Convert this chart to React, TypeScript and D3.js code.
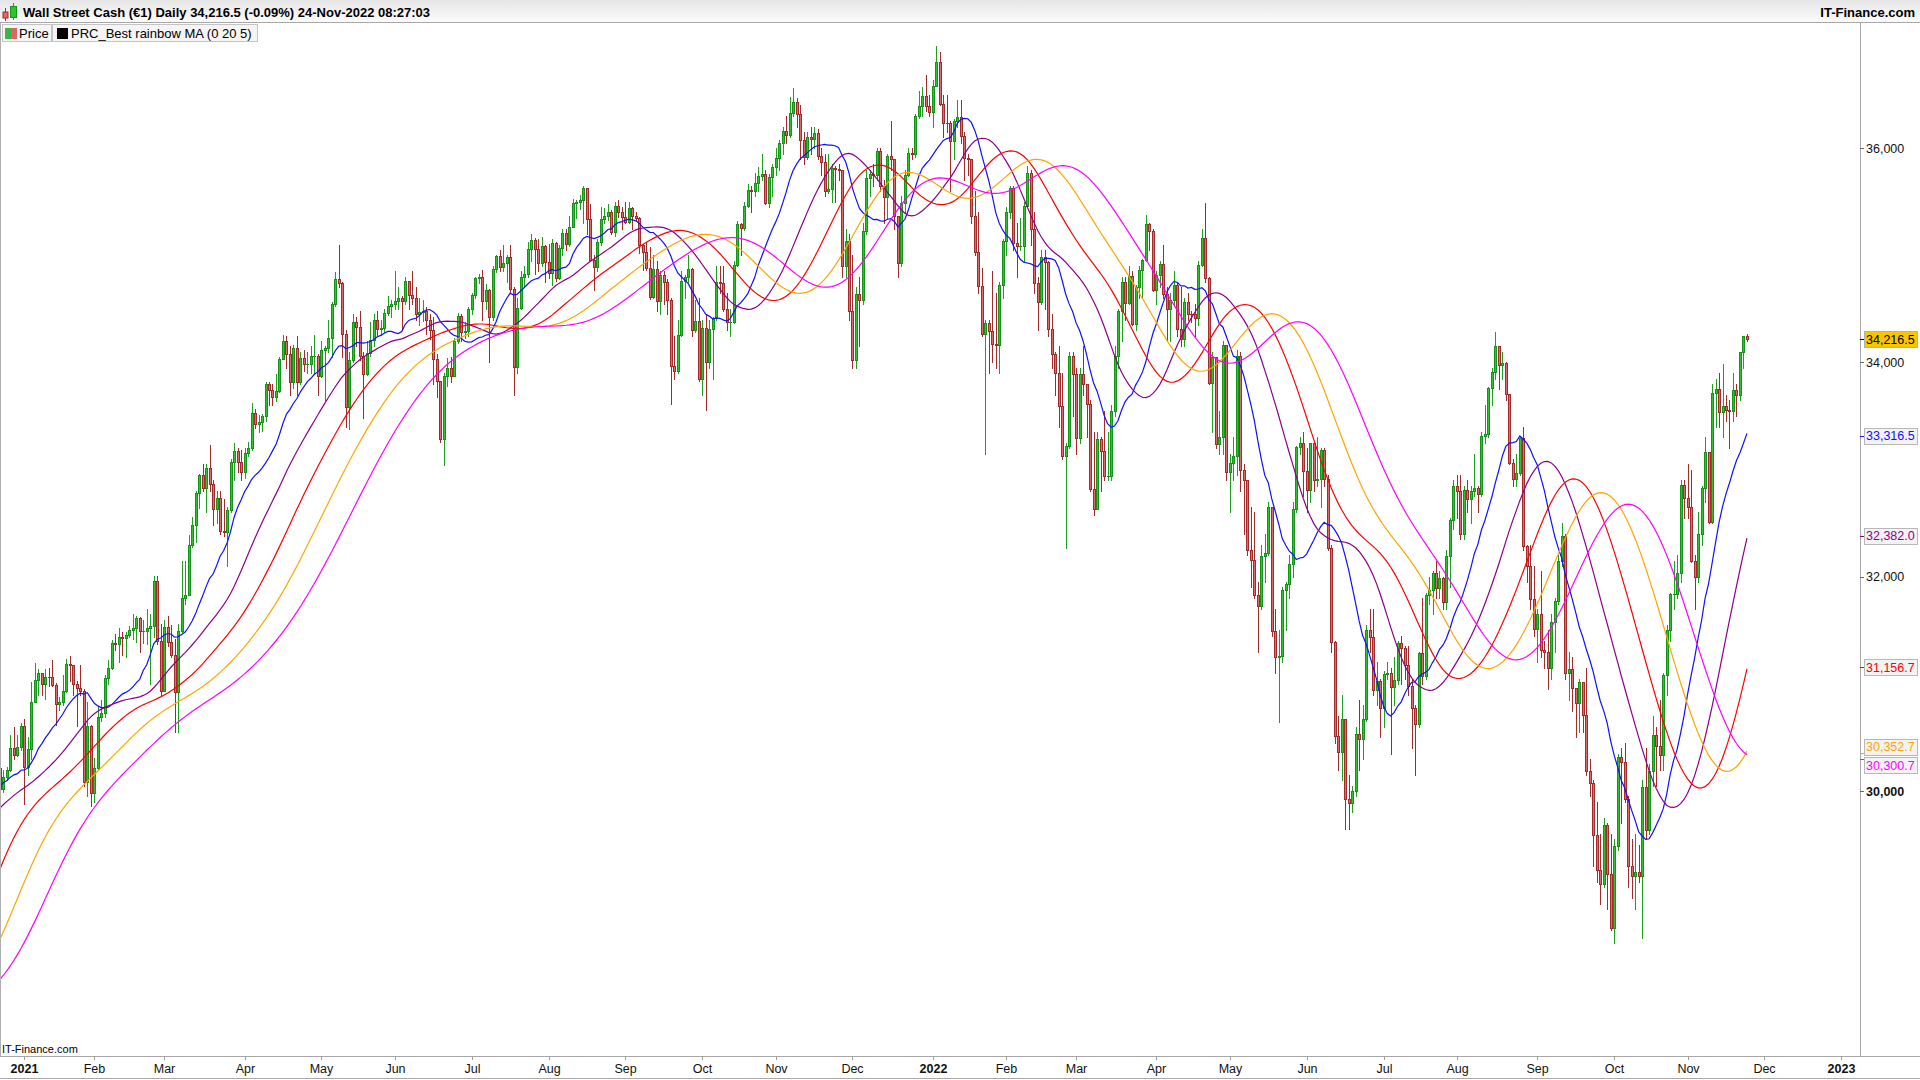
import React from 'react';
import * as d3 from 'd3';

// closes before the visible window (only feed the rainbow averages): Aug 3 2020 .. Dec 21 2020
const warmupCloses = [
  26664, 26828, 27202, 27387, 27433, 27791, 27687, 27976, 27896, 27931, 27844, 27778, 27692, 27739, 27930, 28308, 28249, 28332, 28492, 28654, 28430,
  28645, 29100, 28292, 28133, 28100, 27501, 27940, 27535, 27666, 27993, 27996, 28032, 27902, 27657, 27148, 27288, 26763, 26815, 27174, 27584, 27452, 27782,
  27817, 27683, 28149, 27773, 28303, 28426, 28587, 28838, 28680, 28514, 28494, 28606, 28196, 28309, 28211, 28364, 28336, 27685, 27463, 26520, 26660, 26502,
  26925, 27480, 27847, 28390, 28323, 29158, 29421, 29398, 29080, 29480, 29950, 29784, 29438, 29483, 29263, 29592, 30046, 29873, 29900, 29910, 29638,
  29824, 29884, 29969, 30218, 30070, 30174, 30068, 29999, 30046, 29862, 30200, 30155, 30304, 30179, 30216,
];

// daily bars [open, high, low, close], one row per weekday bar
const dec20 = [[30216,30260,29960,30016],[30016,30200,29990,30129],[30129,30225,30100,30200],[30200,30525,30190,30404],[30404,30600,30300,30336],[30336,30525,30330,30409],[30409,30637,30380,30606]];
const jan21 = [[30606,30674,29882,30223],[30223,30504,30150,30392],[30392,31022,30300,30829],[30829,31193,30830,31041],[31041,31140,30900,31098],[31098,31100,30900,30998],[30998,31135,30860,31068],[31068,31150,30980,31060],[31060,31223,30980,30991],[30991,31010,30620,30814],[30814,30880,30760,30830],[30830,31080,30800,30930],[30930,31230,30920,31188],[31188,31260,31030,31176],[31176,31180,30900,30997],[30997,31030,30610,30960],[30960,31180,30900,30937],[30937,30950,30050,30080],[30080,30830,29950,30603],[30603,30620,29860,29983]];
const feb21 = [[29983,30310,29900,30212],[30212,30790,30200,30688],[30688,30850,30650,30724],[30724,31080,30690,31056],[31056,31220,31000,31148],[31148,31410,31140,31386],[31386,31470,31320,31375],[31375,31520,31200,31438],[31438,31480,31270,31431],[31431,31480,31250,31458],[31458,31540,31440,31500],[31500,31650,31420,31523],[31523,31630,31390,31613],[31613,31620,31300,31494],[31494,31600,31380,31494],[31494,31700,31370,31522],[31522,31650,31000,31537],[31537,32010,31440,31962],[31962,32010,31370,31402],[31402,31560,30900,30932]];
const mar21 = [[30932,31600,30930,31535],[31535,31630,31350,31392],[31392,31550,31250,31270],[31270,31420,30550,30924],[30924,31560,30550,31496],[31496,32150,31480,31802],[31802,32150,31750,31833],[31833,32390,31830,32297],[32297,32560,32280,32485],[32485,32800,32320,32779],[32779,32960,32640,32953],[32953,33050,32800,32826],[32826,33050,32600,33015],[33015,33230,32800,32862],[32862,32900,32480,32628],[32628,32800,32500,32732],[32732,32800,32400,32423],[32423,32730,32380,32420],[32420,32650,32100,32619],[32619,33100,32600,33073],[33073,33250,32900,33171],[33171,33200,32980,33067],[33067,33180,32900,32982]];
const apr21 = [[32982,33200,32920,33153],[33153,33260,33130,33200],[33200,33620,33180,33527],[33527,33570,33390,33430],[33430,33510,33350,33446],[33446,33520,33360,33504],[33504,33820,33450,33801],[33801,33820,33600,33746],[33746,33800,33600,33677],[33677,33890,33640,33730],[33730,34050,33720,34036],[34036,34260,34030,34201],[34201,34250,33950,34078],[34078,34150,33700,33821],[33821,34160,33760,34137],[34137,34250,33700,33816],[33816,34100,33800,34043],[34043,34120,33920,33982],[33982,34100,33900,33985],[33985,34150,33900,34060],[34060,34260,33900,34060],[34060,34080,33700,33875]];
const may21 = [[33875,34200,33860,34114],[34114,34150,33650,34133],[34133,34400,34100,34230],[34230,34560,34050,34549],[34549,34840,34530,34778],[34778,35100,34700,34743],[34743,34750,34050,34270],[34270,34300,33400,33587],[33587,34100,33380,34021],[34021,34450,34000,34382],[34382,34420,34150,34328],[34328,34480,34020,34061],[34061,34100,33480,33896],[33896,34200,33880,34084],[34084,34380,34060,34208],[34208,34450,34150,34394],[34394,34480,34250,34313],[34313,34400,34260,34324],[34324,34500,34280,34465],[34465,34620,34440,34529],[34529,34580,34420,34550]];
const jun21 = [[34550,34850,34500,34575],[34575,34700,34500,34600],[34600,34620,34300,34578],[34578,34800,34550,34756],[34756,34760,34500,34630],[34630,34850,34550,34600],[34600,34700,34400,34448],[34448,34600,34350,34467],[34467,34580,34390,34480],[34480,34520,34270,34394],[34394,34450,34220,34300],[34300,34420,33800,34033],[34033,34080,33680,33823],[33823,33830,33260,33290],[33290,33900,33040,33877],[33877,34040,33780,33946],[33946,34050,33820,33874],[33874,34230,33870,34196],[34196,34460,34180,34433],[34433,34450,34200,34284],[34284,34380,34230,34292],[34292,34520,34250,34503]];
const jul21 = [[34503,34650,34450,34633],[34633,34800,34600,34786],[34786,34830,34740,34800],[34800,34860,34400,34577],[34577,34730,34500,34681],[34681,34690,34000,34422],[34422,34900,34400,34870],[34870,35000,34840,34996],[34996,35050,34850,34889],[34889,35100,34850,34933],[34933,35000,34750,34987],[34987,35100,34650,34688],[34688,34700,33700,33962],[33962,34600,33900,34512],[34512,34850,34500,34798],[34798,34900,34700,34823],[34823,35120,34800,35062],[35062,35200,34950,35144],[35144,35160,34830,35059],[35059,35150,34850,34930],[34930,35170,34900,35085],[35085,35100,34750,34935]];
const aug21 = [[34935,35110,34790,34838],[34838,35150,34720,35117],[35117,35120,34760,34793],[34793,35100,34780,35065],[35065,35250,35000,35209],[35209,35250,35050,35102],[35102,35370,35090,35265],[35265,35530,35260,35485],[35485,35520,35350,35500],[35500,35560,35430,35516],[35516,35650,35300,35625],[35625,35630,35200,35343],[35343,35480,34950,34961],[34961,35000,34680,34894],[34894,35150,34850,35120],[35120,35450,35100,35336],[35336,35440,35300,35367],[35367,35480,35330,35406],[35406,35420,35200,35214],[35214,35500,35180,35456],[35456,35520,35360,35400],[35400,35450,35250,35361]];
const sep21 = [[35361,35500,35300,35313],[35313,35500,35300,35444],[35444,35450,35250,35369],[35369,35400,35320,35350],[35350,35360,35020,35100],[35100,35110,34860,35031],[35031,35120,34860,34879],[34879,35080,34590,34608],[34608,35000,34600,34870],[34870,34950,34480,34578],[34578,34850,34450,34814],[34814,34850,34550,34751],[34751,34780,34450,34584],[34584,34600,33610,33970],[33970,34250,33850,33919],[33919,34400,33900,34258],[34258,34850,34250,34765],[34765,34820,34600,34798],[34798,35000,34750,34870],[34870,34880,34250,34300],[34300,34580,34280,34391],[34391,34600,33830,33844]];
const oct21 = [[33844,34400,33700,34326],[34326,34450,33560,34002],[34002,34400,33950,34315],[34315,34420,33850,34417],[34417,34900,34400,34755],[34755,34900,34650,34746],[34746,34900,34480,34497],[34497,34650,34300,34378],[34378,34500,34250,34378],[34378,34950,34370,34912],[34912,35320,34900,35295],[35295,35300,35000,35259],[35259,35500,35240,35458],[35458,35670,35450,35610],[35610,35650,35400,35603],[35603,35770,35550,35677],[35677,35820,35600,35742],[35742,35950,35700,35757],[35757,35800,35480,35491],[35491,35760,35450,35731],[35731,35850,35550,35820]];
const nov21 = [[35820,36000,35750,35913],[35913,36080,35800,36053],[36053,36200,35950,36158],[36158,36300,36050,36124],[36124,36480,36100,36328],[36328,36565,36300,36432],[36432,36470,36200,36320],[36320,36400,35900,36080],[36080,36150,35850,35921],[35921,36150,35900,36100],[36100,36200,35950,36087],[36087,36200,36000,36142],[36142,36180,35900,35931],[35931,36000,35750,35871],[35871,35950,35550,35602],[35602,35950,35580,35619],[35619,35850,35500,35814],[35814,35830,35500,35804],[35804,35850,35700,35800],[35800,35800,34800,34899],[34899,35250,34800,35136],[35136,35200,34400,34484]];
const dec21 = [[34484,35000,33950,34022],[34022,34700,33950,34640],[34640,34800,34150,34580],[34580,35300,34550,35227],[35227,35800,35200,35720],[35720,35800,35550,35755],[35755,35850,35650,35754],[35754,36000,35700,35971],[35971,36000,35600,35650],[35650,35700,35300,35544],[35544,35950,35350,35927],[35927,36250,35800,35898],[35898,35900,35250,35365],[35365,35370,34800,34932],[34932,35550,34900,35493],[35493,35800,35400,35754],[35754,36000,35740,35951],[35951,36000,35900,35950],[35950,36320,35920,36302],[36302,36530,36280,36398],[36398,36570,36300,36488],[36488,36680,36350,36398],[36398,36500,36300,36338]];
const jan22 = [[36338,36640,36200,36585],[36585,36952,36580,36800],[36800,36900,36400,36408],[36408,36500,36100,36236],[36236,36500,36150,36231],[36231,36250,35600,36068],[36068,36270,35900,36252],[36252,36450,36200,36290],[36290,36450,36050,36114],[36114,36150,35700,35912],[35912,35950,35750,35900],[35900,35900,35300,35369],[35369,35600,35000,35029],[35029,35400,34650,34715],[34715,34880,34250,34265],[34265,34400,33150,34365],[34365,34400,33900,34298],[34298,34850,34000,34168],[34168,34650,33950,34160],[34160,34750,33900,34725],[34725,35150,34600,35132]];
const feb22 = [[35132,35450,35000,35405],[35405,35650,35350,35630],[35630,35650,35050,35112],[35112,35300,34800,35089],[35089,35350,35050,35091],[35091,35500,34950,35463],[35463,35830,35450,35768],[35768,35800,35100,35242],[35242,35400,34650,34738],[34738,34800,34300,34566],[34566,35050,34550,34989],[34989,35050,34500,34935],[34935,34950,34250,34312],[34312,34450,33950,34079],[34079,34100,33700,33900],[33900,34150,33400,33597],[33597,33900,33100,33131],[33131,33250,32272,33224],[33224,34100,33200,34059],[34059,34100,33500,33893]];
const mar22 = [[33893,33950,33150,33295],[33295,33950,33250,33891],[33891,34150,33700,33795],[33795,33800,33300,33615],[33615,33650,32800,32818],[32818,33350,32580,32633],[32633,33350,32630,33286],[33286,33300,32800,33174],[33174,33550,32900,32944],[32944,33350,32900,32945],[32945,33600,32900,33545],[33545,34150,33500,34064],[34064,34500,33950,34481],[34481,34800,34200,34755],[34755,34800,34400,34553],[34553,34900,34550,34808],[34808,34850,34350,34359],[34359,34720,34300,34708],[34708,34900,34600,34862],[34862,34970,34600,34956],[34956,35372,34950,35294],[35294,35300,35050,35229],[35229,35250,34670,34678]];
const apr22 = [[34678,34850,34550,34818],[34818,34950,34700,34922],[34922,35100,34600,34641],[34641,34700,34200,34497],[34497,34650,34200,34584],[34584,34850,34550,34721],[34721,34750,34250,34309],[34309,34700,34150,34221],[34221,34600,34150,34565],[34565,34650,34400,34451],[34451,34480,34380,34450],[34450,34550,34250,34412],[34412,34950,34350,34912],[34912,35250,34900,35161],[35161,35492,34750,34793],[34793,34800,33800,33812],[33812,34100,33350,34049],[34049,34050,33200,33240],[33240,33550,33150,33302],[33302,34200,33150,34160],[34160,34160,32900,32977]];
const may22 = [[32977,33150,32600,33062],[33062,33300,32900,33129],[33129,34120,32950,34061],[34061,34100,32800,32998],[32998,33050,32400,32899],[32899,32900,32200,32246],[32246,32650,31900,32161],[32161,32600,31800,31834],[31834,31950,31300,31730],[31730,32300,31700,32197],[32197,32400,31950,32223],[32223,32700,32200,32655],[32655,32650,31450,31490],[31490,31700,31100,31253],[31253,31500,30640,31262],[31262,31900,31200,31880],[31880,31950,31500,31929],[31929,32200,31800,32120],[32120,32700,32000,32637],[32637,33220,32600,33213],[33213,33300,33150,33250],[33250,33350,32750,32990]];
const jun22 = [[32990,33200,32600,32813],[32813,33250,32700,33248],[33248,33250,32800,32900],[32900,33300,32850,32916],[32916,33200,32650,33180],[33180,33200,32850,32910],[32910,32950,32250,32273],[32273,32300,31300,31393],[31393,31400,30450,30517],[30517,30700,30200,30365],[30365,30900,30100,30669],[30669,30670,29650,29927],[29927,30150,29650,29888],[29888,30050,29800,30000],[30000,30600,29950,30530],[30530,30850,30200,30483],[30483,30800,30300,30677],[30677,31550,30650,31501],[31501,31700,31300,31439],[31439,31700,30900,30947],[30947,31200,30800,31029],[31029,31050,30500,30775]];
const jul22 = [[30775,31120,30600,31097],[31097,31200,31050,31100],[31100,31150,30350,30968],[30968,31250,30800,31037],[31037,31400,31000,31385],[31385,31450,31000,31338],[31338,31350,31050,31173],[31173,31350,30900,30982],[30982,31050,30400,30773],[30773,30800,30150,30630],[30630,31300,30600,31288],[31288,31800,31000,31073],[31073,31850,31050,31828],[31828,32000,31750,31875],[31875,32050,31650,32037],[32037,32150,31800,31899],[31899,32050,31800,31990],[31990,32000,31700,31762],[31762,32250,31700,32198],[32198,32550,31900,32530],[32530,32900,32450,32845]];
const aug22 = [[32845,32950,32550,32799],[32799,32950,32350,32397],[32397,32850,32350,32813],[32813,32900,32600,32727],[32727,32850,32500,32803],[32803,33150,32750,32833],[32833,32850,32600,32775],[32775,33350,32750,33310],[33310,33600,33250,33337],[33337,33770,33300,33761],[33761,33950,33600,33913],[33913,34281,33850,34152],[34152,34150,33750,33981],[33981,34100,33850,33999],[33999,34000,33650,33707],[33707,33700,33050,33064],[33064,33100,32850,32910],[32910,33150,32850,32970],[32970,33300,32950,33292],[33292,33400,32250,32283],[32283,32300,31950,32099],[32099,32300,31700,31791],[31791,32100,31450,31510]];
const sep22 = [[31510,31700,31200,31657],[31657,32050,31250,31318],[31318,31400,31150,31300],[31300,31500,30950,31146],[31146,31650,31050,31581],[31581,31800,31300,31775],[31775,32200,31750,32151],[32151,32500,32100,32381],[32381,32400,31050,31105],[31105,31300,30850,31135],[31135,31250,30750,30962],[30962,30950,30500,30822],[30822,31050,30550,31020],[31020,31000,30550,30706],[30706,31150,30150,30184],[30184,30300,29950,30077],[30077,30100,29300,29590],[29590,29900,29150,29261],[29261,29600,28950,29135],[29135,29750,29100,29684],[29684,29700,28900,29225],[29225,29600,28700,28725]];
const oct22 = [[28725,29550,28583,29490],[29490,30350,29450,30316],[30316,30400,29700,30273],[30273,30450,29900,29927],[29927,29950,29100,29296],[29296,29550,29000,29203],[29203,29600,28900,29240],[29240,29500,29150,29210],[29210,30100,28630,30038],[30038,30400,29550,29635],[29635,30250,29600,30186],[30186,30700,30050,30524],[30524,30600,30050,30424],[30424,30850,30200,30334],[30334,31100,30200,31082],[31082,31550,30900,31499],[31499,31850,31400,31837],[31837,32150,31700,31839],[31839,32200,31800,32033],[32033,32900,31950,32861],[32861,32900,32550,32733]];
const nov22 = [[32733,33050,32550,32653],[32653,33000,32140,32148],[32148,32200,31700,32001],[32001,32600,31950,32403],[32403,32850,32300,32827],[32827,33300,32700,33161],[33161,33150,32500,32514],[32514,33800,32500,33716],[33716,33850,33400,33748],[33748,33900,33400,33537],[33537,33987,33300,33593],[33593,33700,33450,33554],[33554,33650,33200,33547],[33547,33900,33450,33746],[33746,33800,33500,33700],[33700,34100,33650,34098],[34098,34250,33950,34245],[34245,34262,34200,34216.5]];

// month blocks and their axis labels (years in bold)
const monthRows = [dec20, jan21, feb21, mar21, apr21, may21, jun21, jul21, aug21, sep21, oct21, nov21, dec21, jan22, feb22, mar22, apr22, may22, jun22, jul22, aug22, sep22, oct22, nov22];
const monthLabels = ['', '2021', 'Feb', 'Mar', 'Apr', 'May', 'Jun', 'Jul', 'Aug', 'Sep', 'Oct', 'Nov', 'Dec', '2022', 'Feb', 'Mar', 'Apr', 'May', 'Jun', 'Jul', 'Aug', 'Sep', 'Oct', 'Nov'];
// axis months after the data: weekdays left in Nov 2022, then the weekdays of Dec 2022
const futureLabels = ['Dec', '2023'];
const futureWeekdays = [4, 22];

// right axis
const yTicks = [30000, 32000, 34000, 36000];
const boldTicks = [30000];

// last values shown in the price tags
const lastPrice = 34216.5;
const maLastValues = [33316.5, 32382.0, 31156.7, 30352.7, 30300.7];

const maColors = ['#1010ff', '#8b008b', '#ff0000', '#ffa500', '#ff00ff'];
const maPeriod = 17;
const maLevels = 5;

const FONT = 'Liberation Sans, Arial, sans-serif';

function sma(src: number[], n: number): number[] {
  const out = new Array(src.length).fill(NaN);
  for (let i = n - 1; i < src.length; i++) {
    let s = 0;
    let ok = true;
    for (let k = 0; k < n; k++) {
      const v = src[i - k];
      if (Number.isNaN(v)) { ok = false; break; }
      s += v;
    }
    if (ok) out[i] = s / n;
  }
  return out;
}

export default function App() {
  const rows = monthRows.flat();
  const N = rows.length;
  const STEP = 3.494;
  const X0 = -0.04;
  const PLOT_R = 1860;
  const PLOT_T = 23;
  const PLOT_B = 1056;

  const x = d3.scaleLinear().domain([0, 1]).range([X0, X0 + STEP]);
  const y = d3.scaleLinear().domain([27532, 37383]).range([1055.5, 0]);

  // rainbow: each line is the average of the previous one
  const allCloses = [...warmupCloses, ...rows.map((r) => r[3])];
  const levels: number[][] = [];
  let src = allCloses;
  for (let l = 0; l < maLevels; l++) {
    src = sma(src, maPeriod);
    levels.push(src.slice(warmupCloses.length));
  }
  const line = d3.line<number>().defined((d) => !Number.isNaN(d)).x((_, i) => x(i)).y((d) => y(d));

  // month ticks
  const ticks: { label: string; i: number }[] = [];
  let acc = 0;
  monthRows.forEach((m, k) => {
    if (monthLabels[k]) ticks.push({ label: monthLabels[k], i: acc });
    acc += m.length;
  });
  let fi = N - 1 + futureWeekdays[0] + 1;
  futureLabels.forEach((lab, k) => {
    ticks.push({ label: lab, i: fi });
    fi += futureWeekdays[k + 1] || 0;
  });

  const fmt = d3.format(',.1f');
  const tags = [
    { value: lastPrice, color: '#000', bg: '#f7c600', border: '#b0b0b0' },
    ...maLastValues.map((v, k) => ({ value: v, color: maColors[k], bg: '#f3f3f3', border: '#b8b8b8' })),
  ].map((t) => ({ ...t, ty: y(t.value) }));
  const sorted = [...tags].sort((a, b) => a.ty - b.ty);
  const GAP = 18.5;
  for (let it = 0; it < 20; it++) {
    for (let i = 1; i < sorted.length; i++) {
      const a = sorted[i - 1];
      const b = sorted[i];
      if (b.ty - a.ty < GAP) {
        const mid = (a.ty + b.ty) / 2;
        a.ty = mid - GAP / 2;
        b.ty = mid + GAP / 2;
      }
    }
  }

  return (
    <div style={{ position: 'absolute', left: 0, top: 0, width: 1920, height: 1080, background: '#fff' }}>
      <svg width={1920} height={1080} style={{ display: 'block', fontFamily: FONT }}>
        <defs>
          <linearGradient id="hdr" x1="0" x2="0" y1="0" y2="1">
            <stop offset="0" stopColor="#e6e6e6" />
            <stop offset="1" stopColor="#fbfbfb" />
          </linearGradient>
          <clipPath id="plotClip">
            <rect x={0} y={PLOT_T} width={PLOT_R} height={PLOT_B - PLOT_T} />
          </clipPath>
        </defs>
        <rect x={0} y={0} width={1920} height={1080} fill="#fff" />

        {/* candles and rainbow lines */}
        <g clipPath="url(#plotClip)">
          {rows.map((r, i) => {
            const [o, h0, l0, c] = r;
            const h = Math.max(h0, o, c);
            const l = Math.min(l0, o, c);
            const up = c >= o;
            const px = Math.round(x(i));
            const yh = Math.round(y(h));
            const yl = Math.round(y(l));
            const yt = Math.round(y(Math.max(o, c)));
            const yb = Math.round(y(Math.min(o, c)));
            const bh = Math.max(1, yb - yt + 1);
            const dark = up ? '#15941a' : '#a52a2a';
            const light = up ? '#2ec22e' : '#dd6b6b';
            return (
              <g key={i}>
                <rect x={px} y={yh} width={1} height={Math.max(1, yl - yh + 1)} fill={up ? '#1f9f1f' : '#a52a2a'} />
                <rect x={px - 1} y={yt} width={3} height={bh} fill={dark} />
                {bh > 2 && <rect x={px} y={yt + 1} width={1} height={bh - 2} fill={light} />}
              </g>
            );
          })}
          {levels.map((lv, k) => (
            <path key={k} d={line(lv) || ''} fill="none" stroke={maColors[k]} strokeWidth={1.2} />
          ))}
        </g>

        {/* header */}
        <rect x={0} y={0} width={1920} height={22} fill="url(#hdr)" />
        <line x1={0} x2={1920} y1={22.5} y2={22.5} stroke="#a8a8a8" />
        <g>
          <rect x={5} y={8} width={1} height={13} fill="#a52a2a" />
          <rect x={3} y={12} width={5} height={6} fill="#dd6b6b" stroke="#a52a2a" strokeWidth={1} />
          <rect x={13} y={3} width={1} height={17} fill="#1f9f1f" />
          <rect x={10.5} y={6.5} width={6} height={11} fill="#2ec22e" stroke="#15941a" strokeWidth={1} />
        </g>
        <text x={23} y={17} fontSize={13} fontWeight="bold" fill="#000">
          Wall Street Cash (€1) Daily 34,216.5 (-0.09%) 24-Nov-2022 08:27:03
        </text>
        <text x={1915} y={17} fontSize={13} fontWeight="bold" fill="#000" textAnchor="end">
          IT-Finance.com
        </text>

        {/* legend */}
        <rect x={2.5} y={24.5} width={49} height={17} fill="#f5f5f5" stroke="#c4c4c4" />
        <rect x={5} y={28} width={6} height={11} fill="#3cb44b" />
        <rect x={11} y={28} width={6} height={11} fill="#e06666" />
        <text x={19} y={38} fontSize={13} fill="#000">Price</text>
        <rect x={52.5} y={24.5} width={205} height={17} fill="#f5f5f5" stroke="#c4c4c4" />
        <rect x={57} y={28} width={11} height={11} fill="#000" />
        <text x={71} y={38} fontSize={13} fill="#000">PRC_Best rainbow MA (0 20 5)</text>

        {/* frame */}
        <line x1={0.5} x2={0.5} y1={PLOT_T} y2={PLOT_B} stroke="#b0b0b0" />
        <line x1={PLOT_R + 0.5} x2={PLOT_R + 0.5} y1={PLOT_T} y2={PLOT_B} stroke="#a8a8a8" />
        <line x1={0} x2={1920} y1={PLOT_B + 0.5} y2={PLOT_B + 0.5} stroke="#a8a8a8" />
        <line x1={0} x2={1920} y1={1078.5} y2={1078.5} stroke="#a8a8a8" />

        <text x={2} y={1053} fontSize={11} fill="#000">IT-Finance.com</text>

        {/* time axis */}
        {ticks.map((t, k) => {
          const tx = Math.round(x(t.i)) + 0.5;
          const isYear = /^\d{4}$/.test(t.label);
          return (
            <g key={k}>
              <line x1={tx} x2={tx} y1={PLOT_B} y2={PLOT_B + 4} stroke="#a0a0a0" />
              <text x={tx} y={1073} fontSize={12.5} textAnchor="middle" fontWeight={isYear ? 'bold' : 'normal'} fill="#111">
                {t.label}
              </text>
            </g>
          );
        })}

        {/* price axis */}
        {yTicks.map((v) => (
          <g key={v}>
            <line x1={PLOT_R} x2={PLOT_R + 4} y1={Math.round(y(v)) + 0.5} y2={Math.round(y(v)) + 0.5} stroke="#666" />
            <text x={PLOT_R + 6} y={y(v) + 4.5} fontSize={12.5} fill="#111" fontWeight={boldTicks.includes(v) ? 'bold' : 'normal'}>
              {d3.format(',')(v)}
            </text>
          </g>
        ))}

        {/* last value tags */}
        {tags.map((t, k) => (
          <g key={k}>
            <line x1={PLOT_R} x2={PLOT_R + 4} y1={Math.round(y(t.value)) + 0.5} y2={Math.round(y(t.value)) + 0.5} stroke={t.color} />
            <rect x={PLOT_R + 4.5} y={Math.round(t.ty - 8) + 0.5} width={53} height={16} fill={t.bg} stroke={t.border} />
            <text x={PLOT_R + 6} y={t.ty + 4.5} fontSize={12.5} fill={t.color}>
              {fmt(t.value)}
            </text>
          </g>
        ))}
      </svg>
    </div>
  );
}
